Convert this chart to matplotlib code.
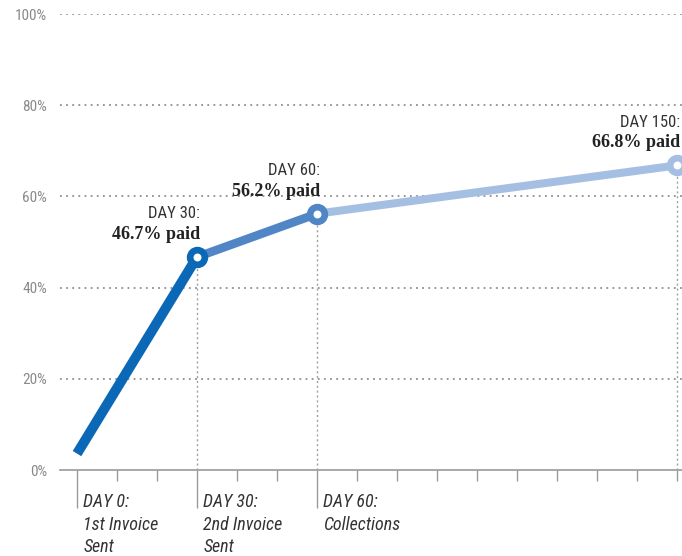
import matplotlib
matplotlib.use("Agg")
import matplotlib.pyplot as plt
from matplotlib.transforms import blended_transform_factory

# ---- data ----
days = [0, 30, 60, 150]
paid = [3.6, 46.7, 56.2, 66.8]
seg_colors = ["#0a68b6", "#5086c6", "#a5bfe3"]
marker_colors = [None, "#0a68b6", "#5086c6", "#a5bfe3"]
day_labels = ["DAY 0:\n1st Invoice\nSent", "DAY 30:\n2nd Invoice\nSent", "DAY 60:\nCollections"]
label_days = [0, 30, 60]
ann_days = ["DAY 30:", "DAY 60:", "DAY 150:"]
ann_paid = ["46.7% paid", "56.2% paid", "66.8% paid"]
y_ticks = [0, 20, 40, 60, 80, 100]
y_tick_labels = ["0%", "20%", "40%", "60%", "80%", "100%"]
minor_days = [10, 20, 40, 50, 70, 80, 90, 100, 110, 120, 130, 140, 150]

narrow = ["Roboto Condensed", "Archivo Narrow", "DejaVu Sans"]
serif = ["Liberation Serif", "DejaVu Serif"]

fig = plt.figure(figsize=(6.82, 5.56), dpi=100)
ax = fig.add_axes([60/682, 86/556, 622/682, 456/556])
ax.set_xlim(-4.25, 151.25)
ax.set_ylim(0, 100)

# grid
for y in y_ticks[1:]:
    ax.axhline(y, color="#8f8f8f", lw=1.3, linestyle=(0, (1, 2.4)), zorder=1)

# vertical dotted lines from points to axis
ax.vlines(days[1:], 0, paid[1:], color="#a0a0a0", lw=1.0, linestyles=(0, (1.5, 2)), zorder=1)

# line segments
widths = [7.2, 6.2, 5.8]
for i in range(3):
    ax.plot(days[i:i+2], paid[i:i+2], color=seg_colors[i], lw=widths[i],
            solid_capstyle="butt", zorder=3, clip_on=False)

# markers
for i in range(1, 4):
    ax.plot([days[i]], [paid[i]], marker="o", ms=10.6, mew=4.8, mfc="white",
            mec=marker_colors[i], zorder=4, clip_on=False)

# annotations
for i in range(3):
    d = days[i+1]; p = paid[i+1]
    ax.annotate(ann_days[i], (d, p), xytext=(2, 28), textcoords="offset points",
                ha="right", va="baseline", fontsize=12, family=narrow, color="#333333")
    ax.annotate(ann_paid[i], (d, p), xytext=(2, 13), textcoords="offset points",
                ha="right", va="baseline", fontsize=13, family=serif,
                fontweight="bold", color="#222222")

# axes styling
for s in ["top", "right", "left"]:
    ax.spines[s].set_visible(False)
ax.spines["bottom"].set_color("#9a9a9a")
ax.spines["bottom"].set_linewidth(1.2)

ax.set_yticks(y_ticks)
ax.set_yticklabels(y_tick_labels, family=narrow, fontsize=11, color="#8a8a8a")
ax.tick_params(axis="y", length=0, pad=9.5)

ax.set_xticks(label_days)
ax.set_xticklabels([""] * len(label_days))
ax.set_xticks(minor_days, minor=True)
ax.tick_params(axis="x", which="major", length=27, width=1, color="#9a9a9a", direction="out")
ax.tick_params(axis="x", which="minor", length=8, width=1, color="#9a9a9a", direction="out")

trans = blended_transform_factory(ax.transData, ax.transAxes)
for d, lab in zip(label_days, day_labels):
    ax.annotate(lab, (d, 0), xycoords=trans, xytext=(4.5, -16.5), textcoords="offset points",
                ha="left", va="top", fontsize=13, family=narrow, style="italic",
                color="#333333", linespacing=1.33)

fig.savefig("out.png", dpi=100)
